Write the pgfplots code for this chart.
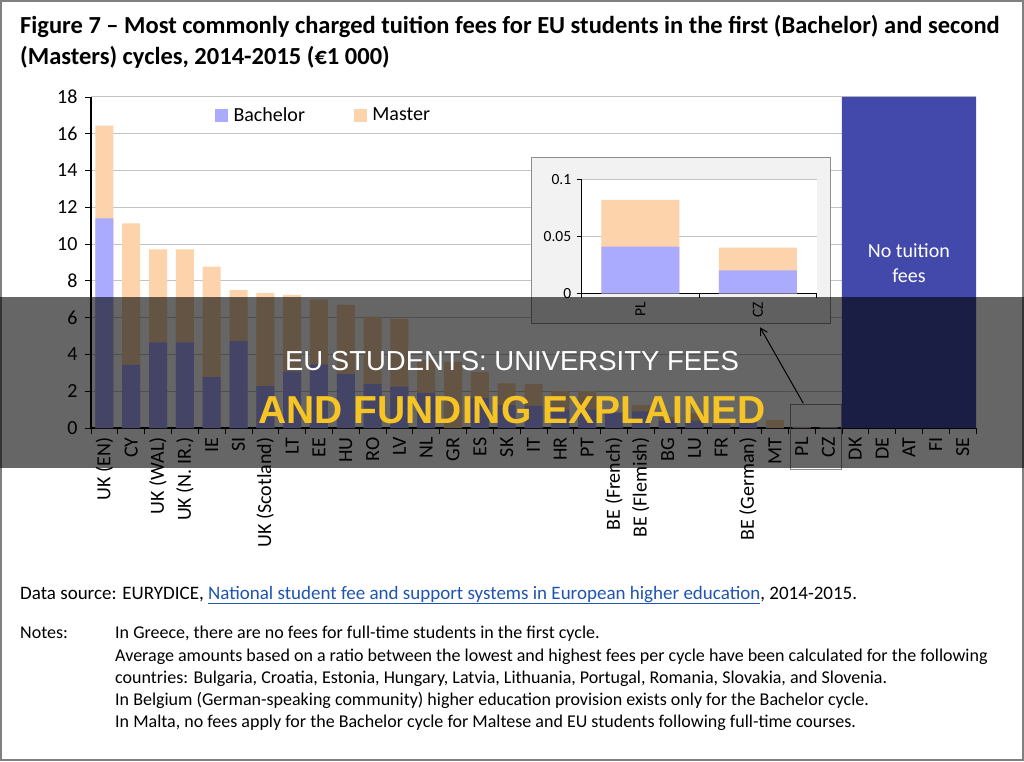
\documentclass[border=0pt]{standalone}
\usepackage{pgfplots}
\pgfplotsset{compat=1.18}
\usepackage{pgfplotstable}
\usepackage{fontspec}
\setmainfont{Carlito}
\newfontfamily\bandfont{Liberation Sans}
\usetikzlibrary{arrows.meta}
\definecolor{bach}{RGB}{170,170,255}
\definecolor{mast}{RGB}{252,211,170}
\definecolor{notuit}{RGB}{67,73,170}
\definecolor{gridc}{RGB}{195,195,195}
\definecolor{linkblue}{RGB}{31,84,178}
\definecolor{bandyellow}{RGB}{246,196,36}
\definecolor{boxgray}{RGB}{140,140,140}

% pos = category index + 0.5 ; bach = Bachelor, mast = Master (thousand EUR)
\pgfplotstableread{
pos  bach  mast
0.5  11.40 16.45
1.5  3.43  11.13
2.5  4.66  9.72
3.5  4.66  9.72
4.5  2.76  8.77
5.5  4.73  7.50
6.5  2.28  7.35
7.5  3.06  7.24
8.5  3.46  6.98
9.5  2.93  6.70
10.5 2.38  6.05
11.5 2.25  5.92
12.5 1.91  3.70
13.5 0.00  3.60
14.5 1.63  3.05
15.5 1.25  2.43
16.5 1.20  2.38
17.5 1.00  2.00
18.5 1.00  2.00
19.5 0.84  0.84
20.5 0.90  1.25
21.5 0.40  0.60
22.5 0.40  0.80
23.5 0.18  0.26
24.5 0.40  0.00
25.5 0.00  0.43
26.5 0.04  0.08
27.5 0.02  0.04
}\fees

\pgfplotstableread{
pos bach  mast
0.5 0.041 0.082
1.5 0.020 0.040
}\inset

\begin{document}
\begin{tikzpicture}
\begin{scope}[x=1pt,y=1pt]
\path[use as bounding box] (0,0) rectangle (1024,761);
\fill[white] (0,0) rectangle (1024,761);
% Title
\node[anchor=base west, inner sep=0pt, font=\fontsize{24.5}{29}\selectfont\bfseries] at (20,727)
  {Figure 7 -- Most commonly charged tuition fees for EU students in the first (Bachelor) and second};
\node[anchor=base west, inner sep=0pt, font=\fontsize{24.5}{29}\selectfont\bfseries] at (20,696)
  {(Masters) cycles, 2014-2015 (€1 000)};
\end{scope}

\begin{axis}[
  at={(91pt,333pt)}, anchor=south west, scale only axis,
  width=885pt, height=331pt,
  xmin=0, xmax=33, ymin=0, ymax=18,
  axis x line=bottom, axis y line=left, axis line style={-, black, line width=1.2pt},
  tick align=outside,
  ytick={0,2,...,18},
  xtick={0.5,1.5,...,32.5},
  xticklabels={UK (EN),CY,UK (WAL),UK (N. IR.),IE,SI,UK (Scotland),LT,EE,HU,RO,LV,NL,GR,ES,SK,IT,HR,PT,BE (French),BE (Flemish),BG,LU,FR,BE (German),MT,PL,CZ,DK,DE,AT,FI,SE},
  minor xtick={0,1,...,33},
  major x tick style={draw=none},
  minor x tick style={black, line width=0.8pt},
  minor tick length=6pt,
  major tick length=6pt,
  y tick style={black, line width=0.8pt},
  ymajorgrids, grid style={gridc, line width=1pt},
  /pgf/number format/assume math mode=true,
  every tick label/.append style={font=\fontsize{20}{24}\selectfont},
  xticklabel style={rotate=90, anchor=east},
  yticklabel style={xshift=-4pt},
  legend style={at={(0.14,0.946)}, anchor=west, draw=none, fill=none, inner sep=0pt,
    font=\fontsize{20}{24}\selectfont, nodes={inner sep=3pt},
    /tikz/every odd column/.append style={column sep=3pt},
    /tikz/every even column/.append style={column sep=46pt}},
  legend columns=2, legend cell align=left,
]
\addlegendimage{legend image code/.code={\fill[bach] (0pt,-6pt) rectangle (12pt,6pt);}}
\addlegendentry{Bachelor}
\addlegendimage{legend image code/.code={\fill[mast] (0pt,-6pt) rectangle (12pt,6pt);}}
\addlegendentry{Master}
\addplot[ybar, bar width=18pt, bar shift=0pt, fill=mast, draw=none, forget plot] table[x=pos,y=mast]{\fees};
\addplot[ybar, bar width=18pt, bar shift=0pt, fill=bach, draw=none, forget plot] table[x=pos,y=bach]{\fees};
\addplot[fill=notuit, draw=none, forget plot] coordinates {(28,0) (28,18) (33,18) (33,0)} \closedcycle;
\node[align=center, text=white, font=\fontsize{20}{25}\selectfont] at (axis cs:30.5,8.95) {No tuition\\fees};
\end{axis}

% inset panel
\begin{scope}[x=1pt,y=1pt]
\draw[boxgray, fill={rgb,255:red,242;green,242;blue,242}, line width=1pt] (531.7,437.7) rectangle (830.5,603.7);
\end{scope}
\begin{axis}[
  at={(581.7pt,467.7pt)}, anchor=south west, scale only axis,
  width=235pt, height=114pt,
  xmin=0, xmax=2, ymin=0, ymax=0.1,
  axis background/.style={fill=white},
  axis x line=bottom, axis y line=left, axis line style={-, black, line width=1.2pt},
  tick align=outside,
  ytick={0,0.05,0.1}, yticklabels={0,0.05,0.1},
  xtick={0.5,1.5}, xticklabels={PL,CZ},
  minor xtick={0,1,2},
  major x tick style={draw=none},
  minor x tick style={black, line width=0.8pt},
  minor tick length=5pt, major tick length=5pt,
  y tick style={black, line width=0.8pt},
  ymajorgrids, grid style={gridc, line width=1pt},
  every tick label/.append style={font=\fontsize{15.5}{18}\selectfont},
  xticklabel style={rotate=90, anchor=east},
  yticklabel style={xshift=-2pt},
]
\addplot[ybar, bar width=78pt, bar shift=0pt, fill=mast, draw=none] table[x=pos,y=mast]{\inset};
\addplot[ybar, bar width=78pt, bar shift=0pt, fill=bach, draw=none] table[x=pos,y=bach]{\inset};
\end{axis}

\begin{scope}[x=1pt,y=1pt]
% pointer box and arrow
\draw[boxgray, line width=1pt] (790,292) rectangle (841,356.7);
\draw[black, line width=1pt, -{Straight Barb[length=7pt,width=8pt]}] (803.3,357.7) -- (760,433.7);

% Source and notes
\node[anchor=base west, inner sep=0pt, font=\fontsize{19}{22}\selectfont] at (20,162) {Data source: EURYDICE, \textcolor{linkblue}{\underline{National student fee and support systems in European higher education}}, 2014-2015.};
\begin{scope}[every node/.style={anchor=base west, inner sep=0pt, font=\fontsize{18}{21}\selectfont}]
\node at (20,123) {Notes:};
\node at (115,123) {In Greece, there are no fees for full-time students in the first cycle.};
\node at (115,100) {Average amounts based on a ratio between the lowest and highest fees per cycle have been calculated for the following};
\node at (115,78) {countries: Bulgaria, Croatia, Estonia, Hungary, Latvia, Lithuania, Portugal, Romania, Slovakia, and Slovenia.};
\node at (115,56) {In Belgium (German-speaking community) higher education provision exists only for the Bachelor cycle.};
\node at (115,34) {In Malta, no fees apply for the Bachelor cycle for Maltese and EU students following full-time courses.};
\end{scope}

% outer frame
\draw[gray, line width=2pt] (1,1) rectangle (1023,760);

% overlay band
\fill[black, opacity=0.6] (0,293.5) rectangle (1024,464);
\node[text=white, font=\bandfont\fontsize{27.5}{32}\selectfont] at (512,400) {EU STUDENTS: UNIVERSITY FEES};
\node[text=bandyellow, font=\bandfont\bfseries\fontsize{39}{44}\selectfont] at (512,351) {AND FUNDING EXPLAINED};
\end{scope}
\end{tikzpicture}
\end{document}
